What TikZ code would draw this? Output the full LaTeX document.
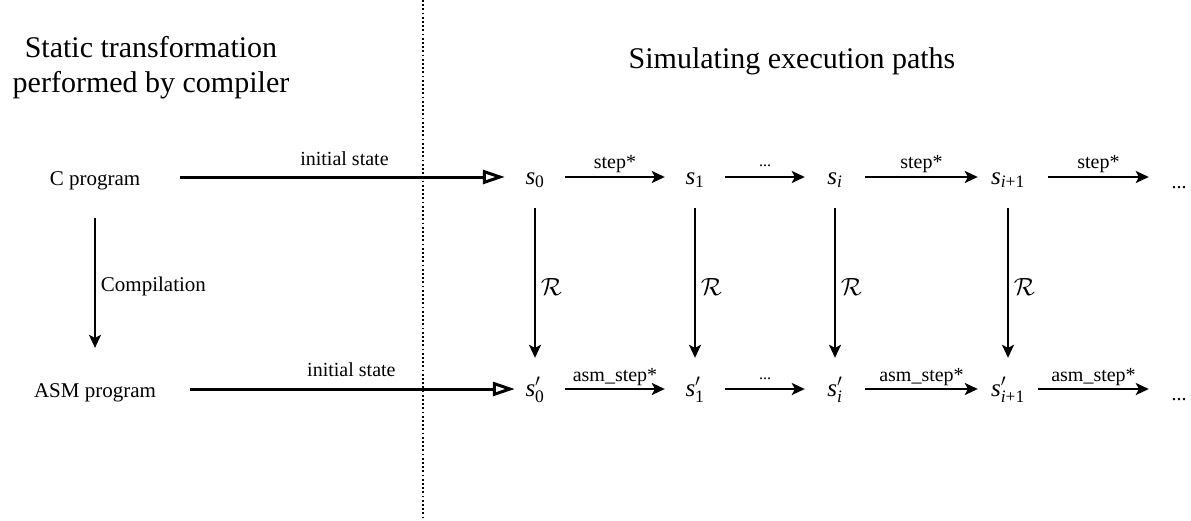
\documentclass[tikz,border=0pt]{standalone}
\usepackage{amsmath}
\usepackage{fontspec}
\setmainfont{Liberation Serif}
\usetikzlibrary{arrows.meta}
\newcommand{\tms}{\textit{s}}
\begin{document}
\begin{tikzpicture}[x=1pt,y=-1pt,
  st/.style={minimum width=60pt, minimum height=62pt, inner sep=0pt, text height=18pt, text depth=4pt, font=\fontsize{25}{29}\selectfont},
  dotsnode/.style={st, text height=22pt, text depth=0pt, font=\fontsize{20}{24}\selectfont},
  lab/.style={inner sep=0pt, font=\fontsize{20}{24}\selectfont},
  prog/.style={inner sep=0pt, font=\fontsize{21}{25}\selectfont},
  smalldots/.style={inner sep=0pt, font=\fontsize{16}{19}\selectfont},
  rel/.style={inner sep=0pt, font=\fontsize{26}{30}\selectfont},
  arr/.style={-{Stealth[length=13pt,width=12pt,inset=3pt]}, line width=1.9pt},
  init/.style={-{Triangle[open,length=22pt,width=14pt]}, line width=3pt},
  sep/.style={line width=1.8pt, dash pattern=on 1.8pt off 2.4pt}
]
\fill[white] (0,0) rectangle (1191,520);
\useasboundingbox (0,0) rectangle (1191,520);

% titles
\node[align=center, inner sep=0pt, font=\fontsize{30}{35}\selectfont] (t1) at (151,68) {Static transformation\\performed by compiler};
\node[anchor=base, inner sep=0pt, font=\fontsize{30}{36}\selectfont] (t2) at (792,68) {Simulating execution paths};

% separator
\coordinate (dtop) at (423,0);
\coordinate (dbot) at (423,520);
\draw[sep] (dtop) -- (dbot);

% programs
\node[prog, anchor=base] (cprog) at (95,185) {C program};
\node[prog, anchor=base] (asm) at (95,397) {ASM program};
\draw[arr, shorten <=28pt, shorten >=35pt] (cprog.south) -- (asm.north)
  node[prog, midway, right=5pt] {Compilation};

% states top
\node[st] (s0) at (535,177) {$\tms_{\textrm{0}}$};
\node[st] (s1) at (695,177) {$\tms_{\textrm{1}}$};
\node[st] (si) at (835,177) {$\tms_{\textit{i}}$};
\node[st] (si1) at (1008,177) {$\tms_{\textit{i}\textrm{+1}}$};
\node[dotsnode] (dt) at (1179,177) {...};

% states bottom
\node[st] (p0) at (535,389) {$\tms'_{\textrm{0}}$};
\node[st] (p1) at (695,389) {$\tms'_{\textrm{1}}$};
\node[st] (pi) at (835,389) {$\tms'_{\textit{i}}$};
\node[st] (pi1) at (1008,389) {$\tms'_{\textit{i}\textrm{+1}}$};
\node[dotsnode] (db) at (1179,389) {...};

% initial state arrows
\draw[init, shorten <=40pt] (cprog.east |- s0.west) -- (s0.west)
  node[lab, pos=0.56, above=10pt] {initial state};
\draw[init, shorten <=34pt, shorten >=-10pt] (asm.east |- p0.west) -- (p0.west)
  node[lab, pos=0.56, above=11pt] {initial state};

% top row
\draw[arr] (s0.east) -- (s1.west) node[lab, midway, above=3pt] {step*};
\draw[arr] (s1.east) -- (si.west) node[smalldots, midway, above=9pt] {...};
\draw[arr] (si.east) -- (si1.west) node[lab, midway, above=3pt] {step*};
\draw[arr, shorten <=10pt] (si1.east) -- (dt.west) node[lab, midway, xshift=5pt, above=3pt] {step*};

% bottom row
\draw[arr] (p0.east) -- (p1.west) node[lab, midway, above=2.5pt] {asm\_step*};
\draw[arr] (p1.east) -- (pi.west) node[smalldots, midway, above=8pt] {...};
\draw[arr] (pi.east) -- (pi1.west) node[lab, midway, above=2.5pt] {asm\_step*};
\draw[arr] (pi1.east) -- (db.west) node[lab, midway, above=2.5pt] {asm\_step*};

% relations
\draw[arr] (s0.south) -- (p0.north) node[rel, midway, right=5pt, yshift=-4pt] {$\mathcal{R}$};
\draw[arr] (s1.south) -- (p1.north) node[rel, midway, right=5pt, yshift=-4pt] {$\mathcal{R}$};
\draw[arr] (si.south) -- (pi.north) node[rel, midway, right=5pt, yshift=-4pt] {$\mathcal{R}$};
\draw[arr] (si1.south) -- (pi1.north) node[rel, midway, right=5pt, yshift=-4pt] {$\mathcal{R}$};
\end{tikzpicture}
\end{document}
